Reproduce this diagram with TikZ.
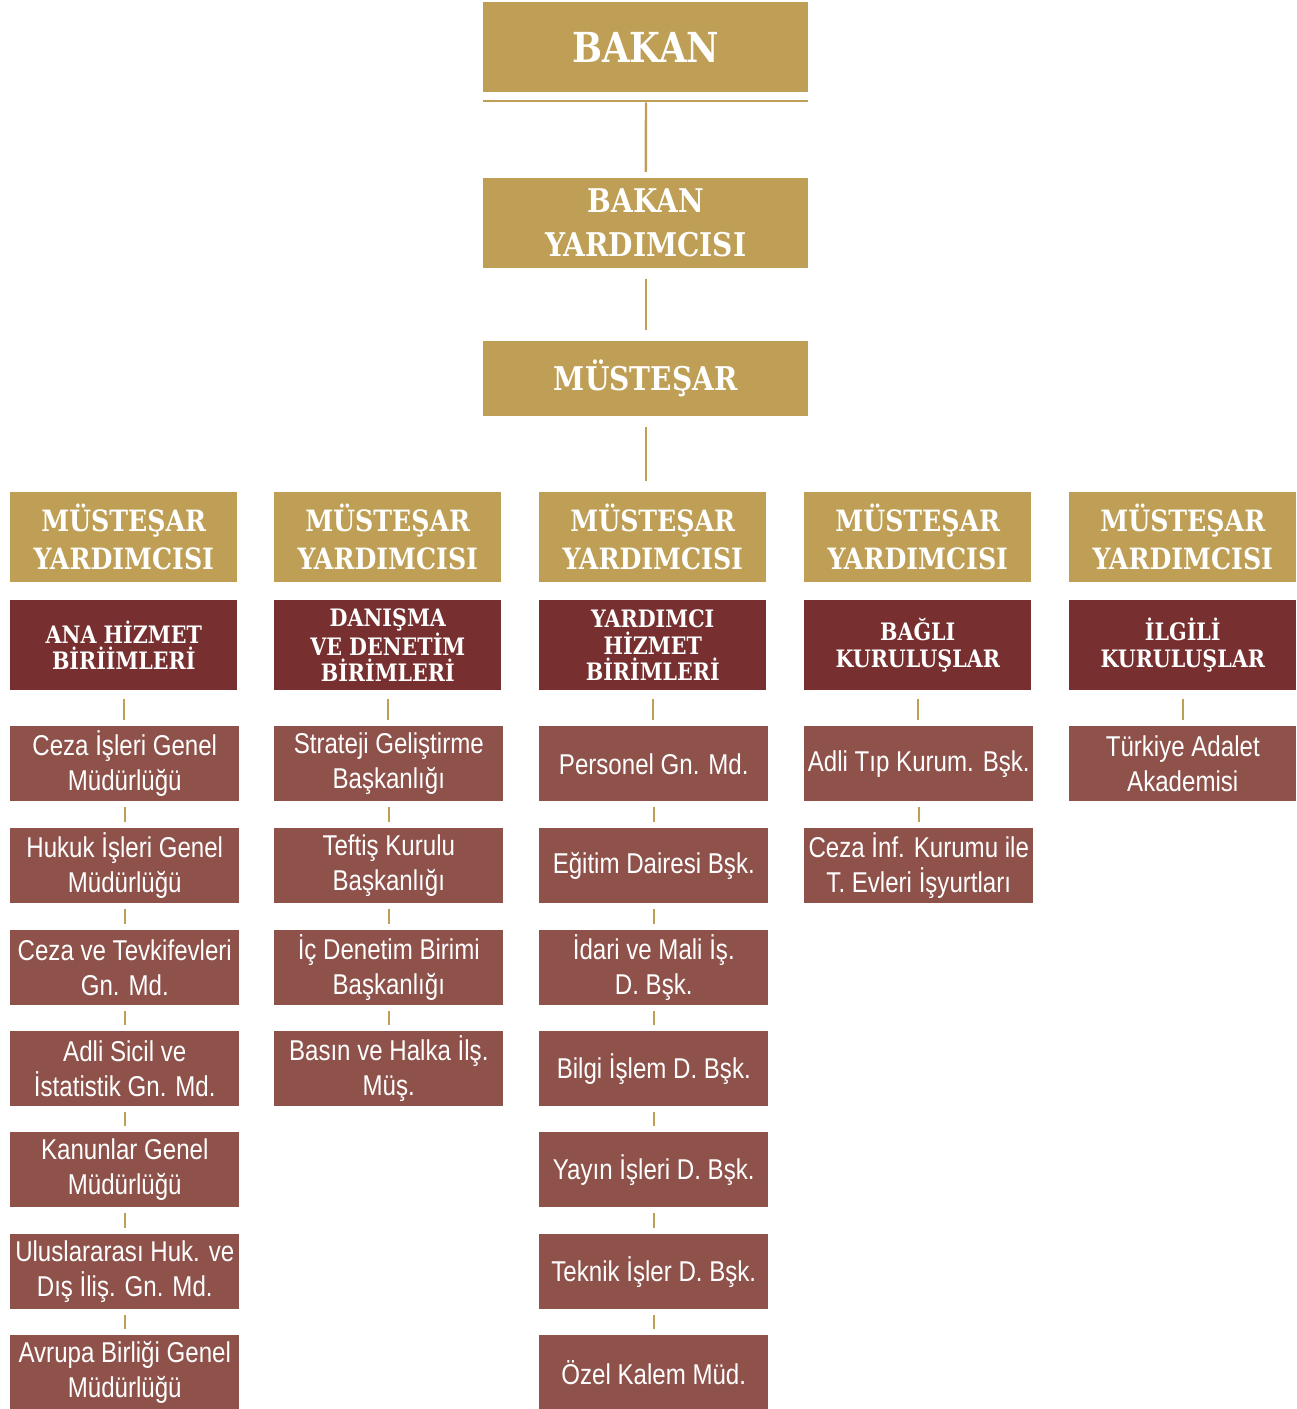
\documentclass[tikz,border=0pt]{standalone}
\usepackage{fontspec}
\setmainfont{Liberation Sans}
\newfontfamily\slabfont{DejaVu Serif}[BoldFont={DejaVu Serif Bold}, FakeStretch=0.86]
\newfontfamily\narrowfont{Liberation Sans}[FakeStretch=0.84]

\definecolor{bakangold}{RGB}{190,159,85}
\definecolor{unitred}{RGB}{119,48,47}
\definecolor{subred}{RGB}{142,82,75}

\tikzset{
  goldbox/.style={fill=bakangold, text=white, anchor=north west, inner sep=0pt, align=center,
    font=\slabfont\bfseries\fontsize{22pt}{28.5pt}\selectfont, minimum width=170.25pt, minimum height=67.5pt},
  topbox/.style={goldbox, minimum width=243.75pt, font=\slabfont\bfseries\fontsize{24.5pt}{33pt}\selectfont},
  unitbox/.style={fill=unitred, text=white, anchor=north west, inner sep=0pt, align=center,
    font=\slabfont\bfseries\fontsize{18pt}{20pt}\selectfont, minimum width=170.25pt, minimum height=67.5pt},
  subbox/.style={fill=subred, text=white, anchor=north west, inner sep=0pt, align=center,
    font=\narrowfont\fontsize{21.5pt}{26.25pt}\selectfont, minimum width=171.75pt, minimum height=56.25pt},
  link/.style={draw=bakangold, line width=1.8pt},
  sublink/.style={link, shorten <=4pt, shorten >=4.5pt}
}

\begin{document}
\begin{tikzpicture}[x=0.75pt,y=0.75pt,yscale=-1,xscale=1]
\useasboundingbox (0,0) rectangle (1296,1409);

% top of the chart
\node[topbox, font=\slabfont\bfseries\fontsize{31pt}{36pt}\selectfont] (bakan) at (483,2) {BAKAN};
\draw[bakangold, line width=2pt] (483,101) -- (808,101);
\coordinate (bakanline) at (646,101);
\node[topbox] (byard) at (483,178) {BAKAN\\YARDIMCISI};
\node[topbox, minimum height=56.25pt] (must) at (483,341) {MÜSTEŞAR};

% column heads
\node[goldbox] (my1) at (10,492) {MÜSTEŞAR\\YARDIMCISI};
\node[goldbox] (my2) at (274,492) {MÜSTEŞAR\\YARDIMCISI};
\node[goldbox] (my3) at (539,492) {MÜSTEŞAR\\YARDIMCISI};
\node[goldbox] (my4) at (804,492) {MÜSTEŞAR\\YARDIMCISI};
\node[goldbox] (my5) at (1069,492) {MÜSTEŞAR\\YARDIMCISI};

\node[unitbox] (u1) at (10,600) {ANA HİZMET\\BİRİİMLERİ};
\node[unitbox] (u2) at (274,600) {DANIŞMA\\VE DENETİM\\BİRİMLERİ};
\node[unitbox] (u3) at (539,600) {YARDIMCI\\HİZMET\\BİRİMLERİ};
\node[unitbox] (u4) at (804,600) {BAĞLI\\KURULUŞLAR};
\node[unitbox] (u5) at (1069,600) {İLGİLİ\\KURULUŞLAR};

% column 1
\node[subbox] (a1) at (10,726) {Ceza İşleri Genel\\Müdürlüğü};
\node[subbox] (a2) at (10,828) {Hukuk İşleri Genel\\Müdürlüğü};
\node[subbox] (a3) at (10,930) {Ceza ve Tevkifevleri\\Gn. Md.};
\node[subbox] (a4) at (10,1031) {Adli Sicil ve\\İstatistik Gn. Md.};
\node[subbox] (a5) at (10,1132) {Kanunlar Genel\\Müdürlüğü};
\node[subbox] (a6) at (10,1234) {Uluslararası Huk. ve\\Dış İliş. Gn. Md.};
\node[subbox] (a7) at (10,1335) {Avrupa Birliği Genel\\Müdürlüğü};

% column 2
\node[subbox] (b1) at (274,726) {Strateji Geliştirme\\Başkanlığı};
\node[subbox] (b2) at (274,828) {Teftiş Kurulu\\Başkanlığı};
\node[subbox] (b3) at (274,930) {İç Denetim Birimi\\Başkanlığı};
\node[subbox] (b4) at (274,1031) {Basın ve Halka İlş.\\Müş.};

% column 3
\node[subbox] (c1) at (539,726) {Personel Gn. Md.};
\node[subbox] (c2) at (539,828) {Eğitim Dairesi Bşk.};
\node[subbox] (c3) at (539,930) {İdari ve Mali İş.\\D. Bşk.};
\node[subbox] (c4) at (539,1031) {Bilgi İşlem D. Bşk.};
\node[subbox] (c5) at (539,1132) {Yayın İşleri D. Bşk.};
\node[subbox] (c6) at (539,1234) {Teknik İşler D. Bşk.};
\node[subbox] (c7) at (539,1335) {Özel Kalem Müd.};

% column 4 and 5
\node[subbox] (d1) at (804,726) {Adli Tıp Kurum. Bşk.};
\node[subbox] (d2) at (804,828) {Ceza İnf. Kurumu ile\\T. Evleri İşyurtları};
\node[subbox, minimum width=170.25pt] (e1) at (1069,726) {Türkiye Adalet\\Akademisi};

% connectors
\draw[link, shorten <=1pt, shorten >=4.5pt] (bakanline) -- (byard.north);
\draw[link, shorten <=7.5pt, shorten >=8pt] (byard.south) -- (must.north);
\draw[link, shorten <=8pt, shorten >=8pt] (must.south) -- (must.south |- my3.north);

\draw[link, shorten <=6pt, shorten >=4.5pt] (u1.south) -- (u1.south |- a1.north);
\draw[link, shorten <=6pt, shorten >=4.5pt] (u2.south) -- (u2.south |- b1.north);
\draw[link, shorten <=6pt, shorten >=4.5pt] (u3.south) -- (u3.south |- c1.north);
\draw[link, shorten <=6pt, shorten >=4.5pt] (u4.south) -- (u4.south |- d1.north);
\draw[link, shorten <=6pt, shorten >=4.5pt] (u5.south) -- (u5.south |- e1.north);

\foreach \i/\j in {1/2,2/3,3/4,4/5,5/6,6/7} {
  \draw[sublink] (a\i.south) -- (a\j.north);
  \draw[sublink] (c\i.south) -- (c\j.north);
}
\foreach \i/\j in {1/2,2/3,3/4} \draw[sublink] (b\i.south) -- (b\j.north);
\draw[sublink] (d1.south) -- (d2.north);

\end{tikzpicture}
\end{document}
